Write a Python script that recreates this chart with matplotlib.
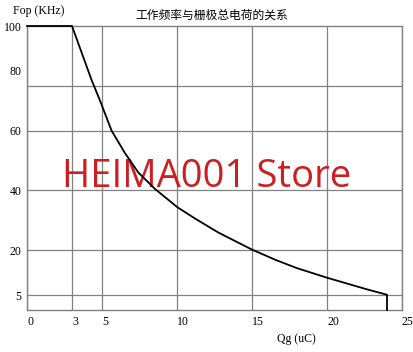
import matplotlib
matplotlib.use('Agg')
import matplotlib.pyplot as plt
import numpy as np

plt.rcParams['font.family'] = ['Liberation Serif', 'DejaVu Serif']

# Qg (uC) vs operating frequency (KHz)
qg = [0, 3, 3.65, 4.3, 4.87, 5.64, 6.53, 7.42, 8.53, 10.02, 11.2, 12.76,
      15.0, 16.6, 18.0, 20.0, 22.6, 24.0, 24.0]
fop = [100, 100, 88, 77, 70, 60, 52.5, 46, 40.5, 34.4, 30.6, 25.9,
       20.2, 16.7, 14, 10.8, 7, 5.1, 0]

x_ticks = [0, 3, 5, 10, 15, 20, 25]
y_ticks = [5, 20, 40, 60, 80, 100]
y_grid = [5, 20, 40, 60, 75]

title = '工作频率与栅极总电荷的关系'
xlabel = 'Qg (uC)'
ylabel = 'Fop (KHz)'
watermark = 'HEIMA001 Store'


# the top of the y axis is squeezed above 80
def fwd(v):
    v = np.asarray(v, dtype=float)
    return np.where(v <= 80, v, 80 + (v - 80) * 0.75)


def inv(s):
    s = np.asarray(s, dtype=float)
    return np.where(s <= 80, s, 80 + (s - 80) / 0.75)


fig = plt.figure(figsize=(4.13, 3.52), dpi=100)
ax = fig.add_axes([27 / 413, 1 - 310 / 352, 375 / 413, 284 / 352])
ax.set_yscale('function', functions=(fwd, inv))

ax.set_xlim(0, 25)
ax.set_ylim(0, 100)

grid_c = '#808080'
ax.yaxis.remove_overlapping_locs = False
ax.set_xticks(x_ticks)
ax.set_yticks(y_ticks)
ax.set_yticks(y_grid, minor=True)
ax.tick_params(axis='both', which='both', length=0)
ax.tick_params(axis='x', pad=4, labelsize=8.5)
ax.tick_params(axis='y', pad=4, labelsize=8.5)
for lbl in ax.get_xticklabels():
    lbl.set_horizontalalignment('left')
ax.grid(axis='x', which='major', color=grid_c, linewidth=0.9)
ax.grid(axis='y', which='major', visible=False)
ax.grid(axis='y', which='minor', color=grid_c, linewidth=0.9)
for sp in ax.spines.values():
    sp.set_color(grid_c)
    sp.set_linewidth(1.0)

ax.text(0.5, 0.497, watermark, transform=fig.transFigure, ha='center', va='center',
        fontsize=27.5, color='#cc1f24', family='Open Sans', zorder=2)

ax.plot(qg, fop, color='black', linewidth=1.3, zorder=3, clip_on=False)

fig.text(13 / 413, 1 - 11 / 352, ylabel, ha='left', va='center', fontsize=8.5)
fig.text(296 / 413, 1 - 339 / 352, xlabel, ha='center', va='center', fontsize=8.5)
fig.text(212 / 413, 1 - 15 / 352, title, ha='center', va='center', fontsize=8.5,
         family=['Noto Sans CJK SC', 'DejaVu Sans'])

fig.savefig('out.png', dpi=100, facecolor='white')
